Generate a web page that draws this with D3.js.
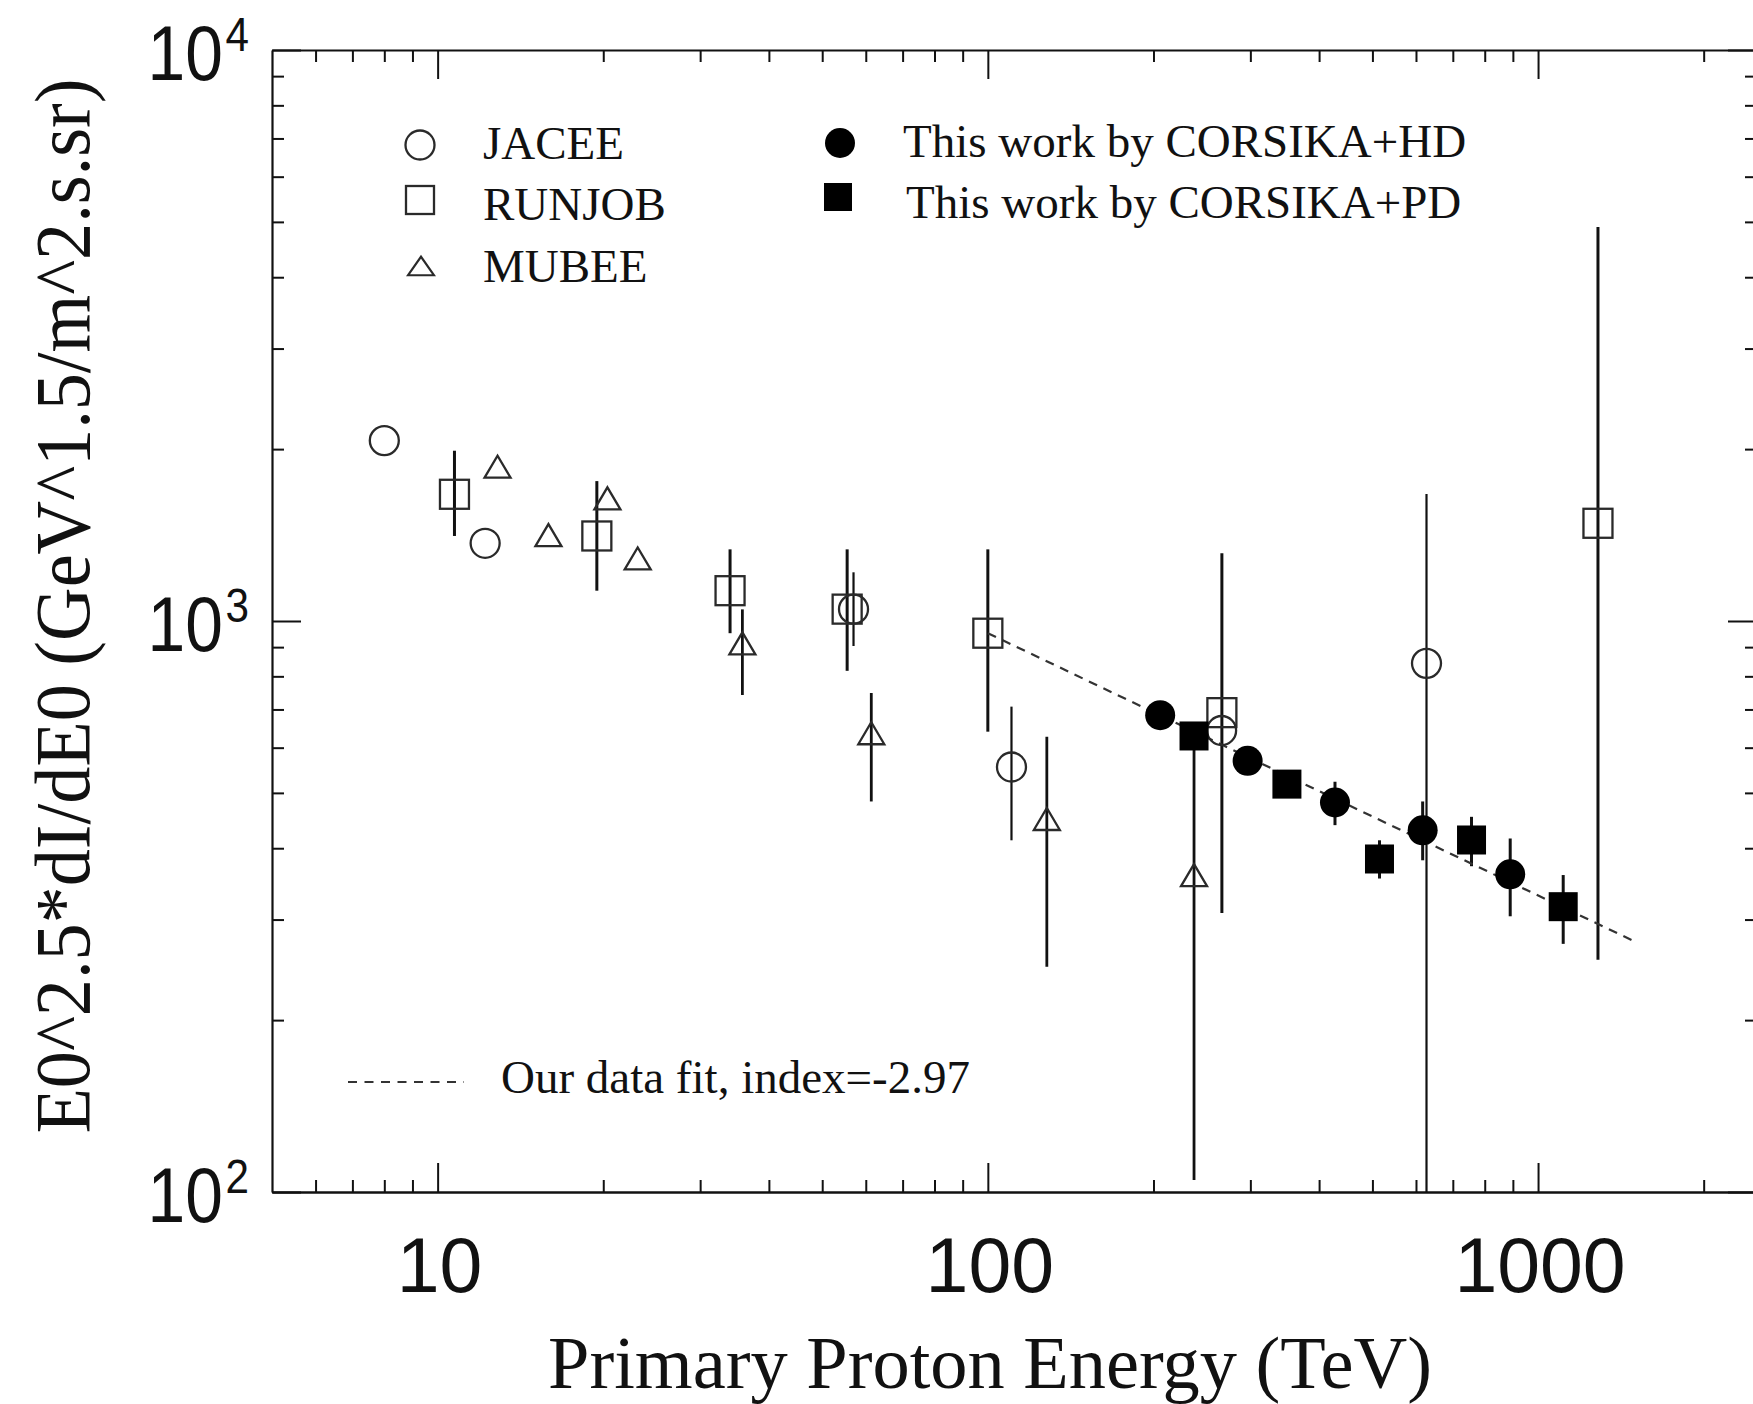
<!DOCTYPE html>
<html><head><meta charset="utf-8">
<script src="https://cdn.jsdelivr.net/npm/d3@7"></script>
<style>body{margin:0;background:#fff}svg{display:block}</style>
</head><body>
<script>
// ---------- axis ticks ----------
const xMajorTicks = [10, 100, 1000];
const xMajorLabels = ["10", "100", "1000"];
const xMinorTicks = [6,7,8,9,20,30,40,50,60,70,80,90,200,300,400,500,600,700,800,900,2000];
const yMajorTicks = [100, 1000, 10000];
const yMajorExponents = ["2", "3", "4"];
const yMinorTicks = [200,300,400,500,600,700,800,900,2000,3000,4000,5000,6000,7000,8000,9000];

// ---------- data: JACEE (open circles) ----------
const jaceeE  = [8.0, 12.2, 57.0, 110.4, 266, 627];
const jaceeV  = [2070, 1368, 1049, 555, 643, 843];
const jaceeLo = [null, null, 904, 413, null, 50];
const jaceeHi = [null, null, 1217, 708, null, 1669];

// ---------- RUNJOB (open squares) ----------
const runjobE  = [10.73, 19.47, 34.0, 55.5, 100, 266.3, 1285];
const runjobV  = [1667, 1409, 1130, 1049, 952, 691, 1483];
const runjobLo = [1409, 1130, 952, 818, 640, 308, 255];
const runjobHi = [1987, 1758, 1335, 1335, 1335, 1314, 4897];

// ---------- MUBEE (open triangles) ----------
const mubeeE  = [12.85, 15.9, 20.35, 23.1, 35.8, 61.4, 128, 237];
const mubeeV  = [1863, 1414, 1640, 1287, 914, 636, 450, 359];
const mubeeLo = [null, null, null, null, 742, 483, 248, 105];
const mubeeHi = [null, null, null, null, 1048, 748, 627, 640];

// ---------- This work by CORSIKA+HD (filled circles) ----------
const hdE  = [205.7, 296.6, 427.5, 617, 890];
const hdV  = [684, 569, 481, 430, 360];
const hdLo = [null, 555, 439, 381, 304];
const hdHi = [null, 583, 523, 483, 416];

// ---------- This work by CORSIKA+PD (filled squares) ----------
const pdE  = [237, 349.6, 515, 757, 1111];
const pdV  = [629, 518, 383, 413.5, 316];
const pdLo = [null, null, 354, 372, 272];
const pdHi = [null, null, 413, 454, 359];

// ---------- fit line ----------
const fitE = [100, 1506];
const fitV = [952, 274];

// ---------- legend ----------
const legendLeft  = ["JACEE", "RUNJOB", "MUBEE"];
const legendRight = ["This work by CORSIKA+HD", "This work by CORSIKA+PD"];
const fitLabel = "Our data fit, index=-2.97";
const xTitle = "Primary Proton Energy (TeV)";
const yTitle = "E0^2.5*dI/dE0 (GeV^1.5/m^2.s.sr)";

// ================= drawing =================
const W = 1753, H = 1404;
const svg = d3.select("body").append("svg").attr("width", W).attr("height", H)
  .style("background", "#fff");

const x = d3.scaleLog().domain([5, 2500]).range([272, 1757]);
const y = d3.scaleLog().domain([100, 10000]).range([1192, 50]).clamp(true);

const ink = "#111";
const sans = "'Liberation Sans', Arial, sans-serif";
const serif = "'Liberation Serif', 'Times New Roman', serif";

function styleAxis(g, w) {
  g.select(".domain").attr("stroke", ink).attr("stroke-width", w);
  g.selectAll(".tick line").attr("stroke", ink).attr("stroke-width", 2);
  g.selectAll(".tick text").remove();
}

// bottom
const gb = svg.append("g").attr("transform", "translate(0,1192)");
gb.call(d3.axisBottom(x).tickValues(xMinorTicks).tickSizeInner(-12).tickSizeOuter(0).tickFormat(""));
gb.append("g").call(d3.axisBottom(x).tickValues(xMajorTicks).tickSizeInner(-29).tickSizeOuter(0).tickFormat(""));
styleAxis(gb, 2.6);
// top
const gt = svg.append("g").attr("transform", "translate(0,50)");
gt.call(d3.axisTop(x).tickValues(xMinorTicks).tickSizeInner(-12).tickSizeOuter(0).tickFormat(""));
gt.append("g").call(d3.axisTop(x).tickValues(xMajorTicks).tickSizeInner(-29).tickSizeOuter(0).tickFormat(""));
styleAxis(gt, 2.2);
// left
const gl = svg.append("g").attr("transform", "translate(272,0)");
gl.call(d3.axisLeft(y).tickValues(yMinorTicks).tickSizeInner(-12).tickSizeOuter(0).tickFormat(""));
gl.append("g").call(d3.axisLeft(y).tickValues(yMajorTicks).tickSizeInner(-29).tickSizeOuter(0).tickFormat(""));
styleAxis(gl, 2.2);
// right
const gr = svg.append("g").attr("transform", "translate(1757,0)");
gr.call(d3.axisRight(y).tickValues(yMinorTicks).tickSizeInner(-12).tickSizeOuter(0).tickFormat(""));
gr.append("g").call(d3.axisRight(y).tickValues(yMajorTicks).tickSizeInner(-29).tickSizeOuter(0).tickFormat(""));
styleAxis(gr, 2.2);
[gb, gt, gl, gr].forEach(g => g.selectAll(".domain").attr("stroke", ink));

// x tick labels
svg.append("g").selectAll("text").data(xMajorTicks).join("text")
  .attr("x", d => x(d) + 2).attr("y", 1292)
  .attr("text-anchor", "middle").attr("font-family", sans).attr("font-size", 77)
  .attr("fill", ink).text((d, i) => xMajorLabels[i]);

// y tick labels (slightly condensed like the original)
const yl = svg.append("g").selectAll("text").data(yMajorTicks).join("text")
  .attr("transform", d => `translate(249,${y(d) + 30}) scale(0.88,1)`)
  .attr("text-anchor", "end").attr("font-family", sans).attr("fill", ink);
yl.append("tspan").attr("font-size", 77).text("10");
yl.append("tspan").attr("font-size", 48).attr("dx", 3).attr("dy", -29).text((d, i) => yMajorExponents[i]);

// axis titles
svg.append("text").attr("x", 990).attr("y", 1388).attr("text-anchor", "middle")
  .attr("font-family", serif).attr("font-size", 75).attr("fill", ink)
  .attr("textLength", 884).attr("lengthAdjust", "spacingAndGlyphs").text(xTitle);
svg.append("text").attr("transform", "translate(89,606) rotate(-90)").attr("text-anchor", "middle")
  .attr("font-family", serif).attr("font-size", 78).attr("fill", ink)
  .attr("textLength", 1055).attr("lengthAdjust", "spacingAndGlyphs").text(yTitle);

// ---------- plot content ----------
const plot = svg.append("g");

function series(E, V, Lo, Hi) {
  return E.map((e, i) => ({e, v: V[i], lo: Lo ? Lo[i] : null, hi: Hi ? Hi[i] : null}));
}
const jacee = series(jaceeE, jaceeV, jaceeLo, jaceeHi);
const runjob = series(runjobE, runjobV, runjobLo, runjobHi);
const mubee = series(mubeeE, mubeeV, mubeeLo, mubeeHi);
const hd = series(hdE, hdV, hdLo, hdHi);
const pd = series(pdE, pdV, pdLo, pdHi);

function errorBars(data, w) {
  plot.append("g").selectAll("line").data(data.filter(d => d.lo != null)).join("line")
    .attr("x1", d => x(d.e)).attr("x2", d => x(d.e))
    .attr("y1", d => y(d.hi)).attr("y2", d => y(d.lo))
    .attr("stroke", ink).attr("stroke-width", w);
}
errorBars(runjob, 3);
errorBars(mubee, 2.8);
errorBars(jacee, 2.2);
errorBars(hd, 3);
errorBars(pd, 3);

// fit line
const fitData = fitE.map((e, i) => [e, fitV[i]]);
plot.append("path").datum(fitData)
  .attr("d", d3.line().x(d => x(d[0])).y(d => y(d[1])))
  .attr("fill", "none").attr("stroke", "#333").attr("stroke-width", 2.2)
  .attr("stroke-dasharray", "9,7");

const openStroke = "#2a2a2a";
const triPath = "M-13,11L13,11L0,-11Z";

// open circles
plot.append("g").selectAll("circle").data(jacee).join("circle")
  .attr("cx", d => x(d.e)).attr("cy", d => y(d.v)).attr("r", 14.5)
  .attr("fill", "none").attr("stroke", openStroke).attr("stroke-width", 2.3);
// open squares
plot.append("g").selectAll("rect").data(runjob).join("rect")
  .attr("x", d => x(d.e) - 14.5).attr("y", d => y(d.v) - 14.5).attr("width", 29).attr("height", 29)
  .attr("fill", "none").attr("stroke", openStroke).attr("stroke-width", 2.3);
// open triangles
plot.append("g").selectAll("path").data(mubee).join("path")
  .attr("transform", d => `translate(${x(d.e)},${y(d.v)})`).attr("d", triPath)
  .attr("fill", "none").attr("stroke", openStroke).attr("stroke-width", 2.3);
// filled circles
plot.append("g").selectAll("circle").data(hd).join("circle")
  .attr("cx", d => x(d.e)).attr("cy", d => y(d.v)).attr("r", 15)
  .attr("fill", "#000");
// filled squares
plot.append("g").selectAll("rect").data(pd).join("rect")
  .attr("x", d => x(d.e) - 14.5).attr("y", d => y(d.v) - 14.5).attr("width", 29).attr("height", 29)
  .attr("fill", "#000");

// ---------- legend ----------
const leg = svg.append("g").attr("font-family", serif).attr("font-size", 47).attr("fill", ink);
const leftBase = [159, 220, 282];
leg.selectAll("text.l").data(legendLeft).join("text").attr("class", "l")
  .attr("x", 483).attr("y", (d, i) => leftBase[i]).text(d => d);
leg.append("circle").attr("cx", 420).attr("cy", 145).attr("r", 14.5)
  .attr("fill", "none").attr("stroke", openStroke).attr("stroke-width", 2.3);
leg.append("rect").attr("x", 406).attr("y", 186).attr("width", 28).attr("height", 28)
  .attr("fill", "none").attr("stroke", openStroke).attr("stroke-width", 2.3);
leg.append("path").attr("transform", "translate(421,266) scale(1,0.85)").attr("d", triPath)
  .attr("fill", "none").attr("stroke", openStroke).attr("stroke-width", 2.3);

const rightBase = [157, 218];
const rightX = [903, 906];
leg.selectAll("text.r").data(legendRight).join("text").attr("class", "r")
  .attr("x", (d, i) => rightX[i]).attr("y", (d, i) => rightBase[i]).text(d => d);
leg.append("circle").attr("cx", 840).attr("cy", 143).attr("r", 15).attr("fill", "#000");
leg.append("rect").attr("x", 824).attr("y", 183).attr("width", 28).attr("height", 28).attr("fill", "#000");

leg.append("line").attr("x1", 348).attr("x2", 464).attr("y1", 1082).attr("y2", 1082)
  .attr("stroke", "#333").attr("stroke-width", 2.2).attr("stroke-dasharray", "9,7.5");
leg.append("text").attr("x", 501).attr("y", 1093).text(fitLabel);
</script>
</body></html>
